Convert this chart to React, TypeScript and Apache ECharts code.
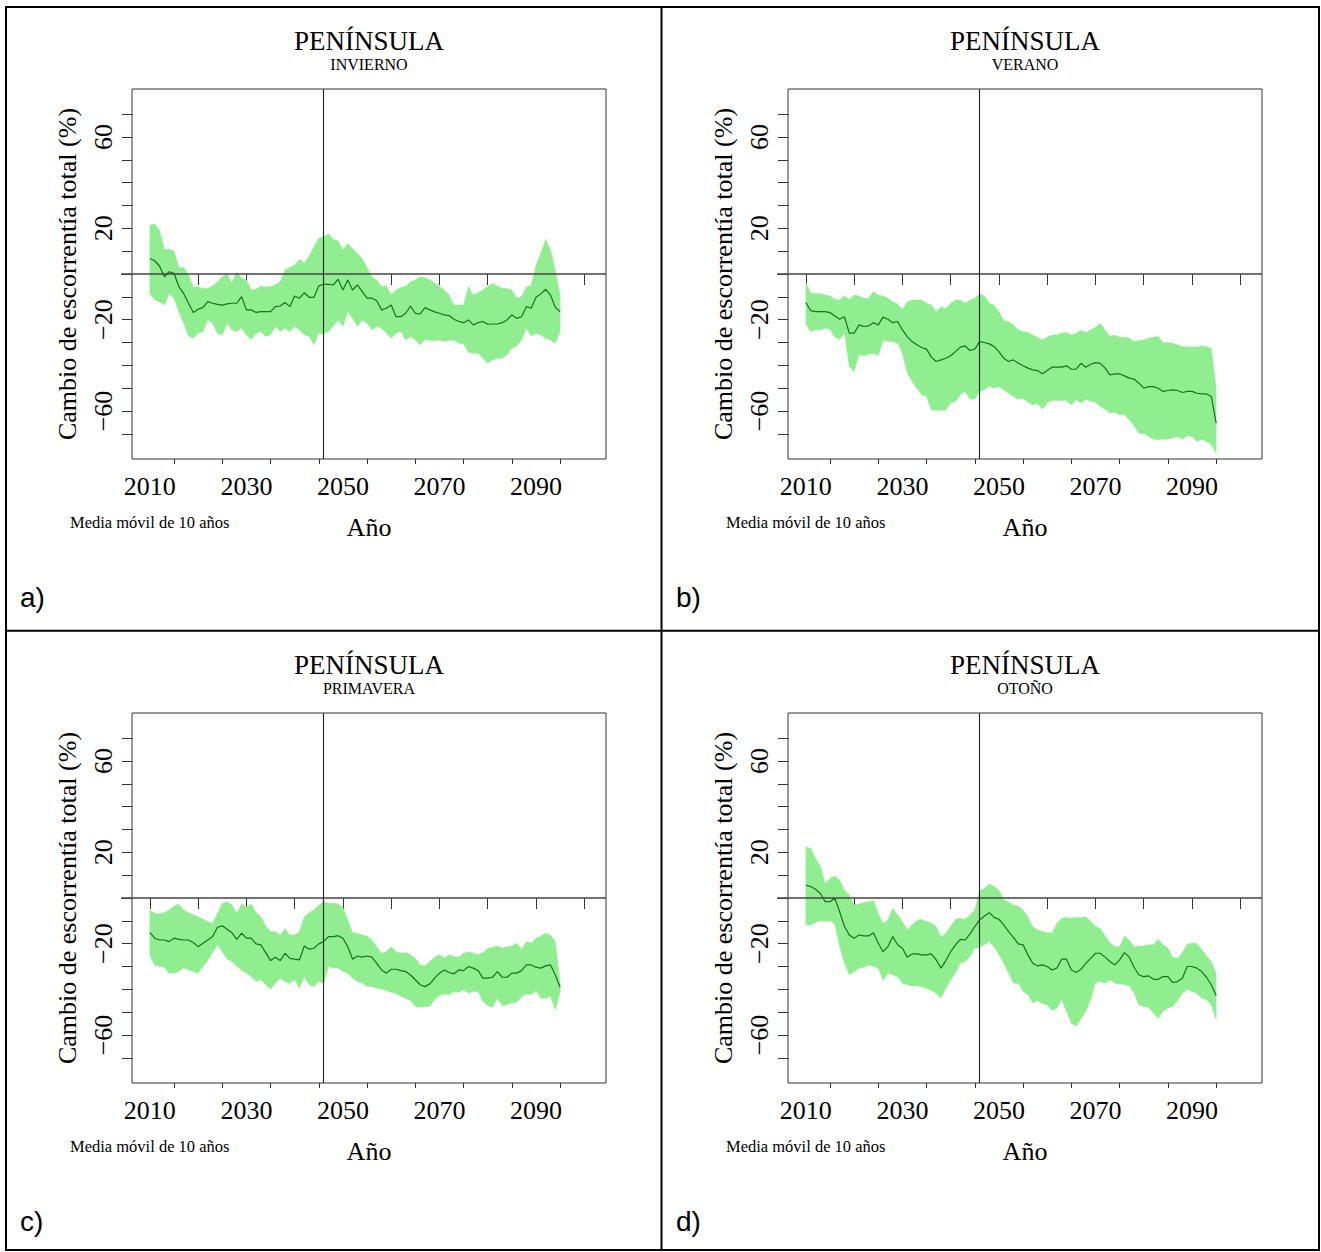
import React, { useEffect, useRef } from "react";
import * as echarts from "echarts";

const years = [
  2010, 2011, 2012, 2013, 2014, 2015, 2016, 2017, 2018, 2019,
  2020, 2021, 2022, 2023, 2024, 2025, 2026, 2027, 2028, 2029,
  2030, 2031, 2032, 2033, 2034, 2035, 2036, 2037, 2038, 2039,
  2040, 2041, 2042, 2043, 2044, 2045, 2046, 2047, 2048, 2049,
  2050, 2051, 2052, 2053, 2054, 2055, 2056, 2057, 2058, 2059,
  2060, 2061, 2062, 2063, 2064, 2065, 2066, 2067, 2068, 2069,
  2070, 2071, 2072, 2073, 2074, 2075, 2076, 2077, 2078, 2079,
  2080, 2081, 2082, 2083, 2084, 2085, 2086, 2087, 2088, 2089,
  2090, 2091, 2092, 2093, 2094, 2095,
];

// a) INVIERNO
const winterMean = [
  6.8, 5.8, 3.5, -1.2, 1.0, 0.3, -5.5, -8.5, -12.8, -16.9,
  -15.4, -14.7, -12.1, -12.8, -13.3, -13.6, -13.1, -12.8, -12.8, -9.9,
  -15.7, -15.7, -16.8, -16.5, -16.5, -16.5, -14.3, -14.0, -12.5, -14.3,
  -9.6, -10.6, -8.2, -10.2, -10.2, -5.2, -4.5, -4.5, -4.8, -2.3,
  -7.0, -2.6, -7.0, -4.8, -7.7, -10.6, -10.6, -11.7, -15.7, -15.0,
  -13.6, -18.7, -18.7, -17.2, -14.0, -17.2, -17.5, -14.7, -15.7, -16.6,
  -17.2, -17.9, -18.2, -19.8, -20.8, -21.3, -20.1, -22.3, -21.3, -20.8,
  -22.0, -21.9, -21.9, -21.3, -20.1, -17.9, -19.4, -18.7, -14.3, -15.0,
  -10.2, -8.7, -6.7, -9.2, -14.6, -16.5,
];
const winterHigh = [
  21.4, 21.9, 19.2, 10.8, 10.8, 10.2, 2.9, 2.9, -0.4, -5.8,
  -5.5, -6.3, -6.3, -5.2, -3.4, -1.2, 0.0, -3.8, 1.0, -1.9,
  -2.6, -7.0, -6.7, -5.2, -5.8, -5.5, -4.8, -3.4, 2.0, 2.9,
  3.9, 6.4, 4.9, 7.9, 11.9, 15.6, 16.3, 17.5, 15.2, 14.6,
  10.5, 13.4, 11.2, 9.0, 6.8, 2.9, -1.2, -2.6, -5.5, -5.2,
  -9.2, -7.0, -5.8, -5.5, -3.4, -2.6, -1.2, -1.6, -2.6, -4.1,
  -5.5, -7.0, -9.2, -13.6, -13.6, -13.6, -5.5, -9.2, -8.2, -7.0,
  -5.5, -4.1, -5.2, -6.3, -6.3, -7.0, -10.6, -9.9, -5.8, -4.8,
  3.9, 9.0, 15.2, 10.5, 1.7, -9.2,
];
const winterLow = [
  -8.5, -11.4, -12.1, -13.6, -8.5, -10.6, -16.5, -21.6, -27.1, -28.1,
  -25.9, -25.2, -20.1, -21.6, -25.9, -26.7, -21.6, -24.5, -25.2, -23.8,
  -26.7, -28.6, -25.9, -25.2, -27.4, -26.7, -23.0, -25.2, -23.8, -25.2,
  -23.0, -24.5, -26.7, -27.4, -31.0, -25.9, -26.2, -25.2, -22.7, -20.1,
  -23.0, -16.5, -19.4, -23.0, -20.1, -21.6, -24.5, -23.0, -23.8, -25.9,
  -28.1, -25.9, -25.2, -28.9, -27.4, -28.9, -31.0, -28.6, -29.1, -29.1,
  -28.9, -29.6, -29.1, -28.9, -30.3, -30.6, -34.4, -34.7, -34.7, -36.9,
  -39.1, -37.6, -36.9, -36.9, -35.4, -32.5, -31.5, -28.9, -23.8, -27.1,
  -25.9, -26.7, -28.1, -28.9, -30.3, -25.2,
];

// b) VERANO
const summerMean = [
  -12.5, -16.0, -16.5, -16.5, -16.5, -16.9, -18.4, -19.8, -18.7, -25.9,
  -25.9, -22.3, -23.0, -22.7, -21.3, -22.3, -18.9, -19.8, -21.3, -20.8,
  -24.5, -27.4, -29.6, -31.0, -32.2, -32.9, -36.4, -38.3, -37.6, -36.9,
  -35.8, -34.0, -32.0, -31.5, -33.5, -32.9, -29.6, -30.0, -30.6, -31.8,
  -34.0, -36.9, -38.3, -37.6, -39.1, -40.2, -41.2, -42.0, -42.3, -43.7,
  -42.3, -40.8, -40.8, -40.8, -40.2, -41.7, -41.7, -39.1, -40.8, -39.5,
  -38.8, -39.1, -41.2, -44.2, -43.7, -43.7, -44.6, -45.6, -46.0, -47.8,
  -50.0, -49.3, -49.3, -50.0, -51.4, -51.0, -50.7, -51.0, -51.9, -51.4,
  -51.4, -52.2, -52.5, -52.5, -53.6, -65.3,
];
const summerHigh = [
  -3.8, -8.2, -8.5, -8.5, -9.2, -9.6, -11.1, -11.4, -9.6, -11.1,
  -9.2, -9.6, -10.6, -10.6, -7.7, -9.2, -9.6, -10.6, -12.1, -13.1,
  -15.4, -12.1, -11.4, -11.4, -11.4, -12.8, -13.6, -16.5, -14.3, -15.0,
  -12.8, -11.4, -11.4, -12.8, -11.4, -10.6, -8.7, -9.6, -12.8, -13.6,
  -16.5, -20.4, -20.8, -22.3, -24.5, -25.2, -25.6, -26.7, -27.7, -28.9,
  -27.7, -26.7, -26.7, -25.9, -25.6, -26.7, -25.9, -24.5, -25.6, -24.5,
  -23.3, -21.6, -24.5, -27.4, -26.7, -27.7, -27.7, -28.1, -29.6, -29.1,
  -28.9, -28.1, -27.7, -27.4, -30.0, -30.0, -30.3, -31.0, -31.8, -31.8,
  -32.0, -31.8, -31.5, -31.8, -32.5, -50.0,
];
const summerLow = [
  -21.9, -25.2, -24.5, -24.5, -23.8, -24.2, -27.7, -28.6, -25.9, -40.5,
  -42.7, -35.4, -35.8, -35.0, -34.7, -35.8, -29.1, -29.6, -29.6, -30.3,
  -34.7, -43.4, -47.1, -50.0, -52.9, -53.6, -59.5, -59.7, -59.7, -59.7,
  -56.5, -55.8, -52.9, -51.4, -54.8, -54.8, -51.4, -50.7, -49.0, -50.0,
  -49.3, -50.7, -52.2, -53.6, -54.8, -54.4, -56.2, -57.3, -56.8, -59.2,
  -56.5, -55.4, -55.4, -55.4, -55.4, -57.3, -55.1, -56.5, -54.8, -55.8,
  -56.2, -58.0, -59.2, -60.9, -60.6, -61.6, -61.6, -63.8, -66.4, -69.7,
  -69.9, -71.1, -72.3, -72.6, -72.3, -72.3, -71.8, -71.1, -72.3, -70.8,
  -71.1, -73.3, -72.3, -73.3, -74.8, -78.4,
];

// c) PRIMAVERA
const springMean = [
  -15.2, -17.6, -18.4, -18.4, -19.1, -17.6, -18.1, -18.4, -18.4, -19.5,
  -21.3, -19.8, -18.4, -16.9, -12.8, -12.2, -13.7, -15.2, -18.1, -15.4,
  -17.6, -17.6, -20.1, -20.5, -23.9, -27.4, -25.9, -27.4, -24.2, -26.4,
  -26.8, -27.1, -21.0, -22.4, -22.0, -20.1, -19.1, -16.9, -16.9, -16.5,
  -17.6, -21.3, -26.8, -25.4, -25.9, -25.4, -25.9, -28.6, -31.5, -32.9,
  -31.2, -31.2, -31.8, -32.2, -33.7, -35.8, -38.0, -38.8, -37.6, -35.1,
  -32.9, -31.5, -32.6, -33.2, -31.5, -31.8, -30.0, -30.7, -31.8, -35.1,
  -35.1, -34.7, -32.2, -34.7, -34.7, -32.9, -32.9, -31.8, -29.3, -29.3,
  -30.3, -30.7, -29.7, -29.3, -33.7, -39.1,
];
const springHigh = [
  -5.2, -6.7, -7.0, -6.4, -5.2, -3.5, -2.6, -5.2, -6.4, -7.4,
  -8.2, -9.3, -10.3, -11.1, -6.7, -2.3, -1.6, -3.1, -6.7, -2.6,
  -3.8, -2.6, -6.4, -8.2, -12.2, -14.7, -14.7, -16.2, -13.3, -16.2,
  -16.2, -14.7, -8.2, -6.4, -5.2, -3.1, -1.6, -2.3, -2.3, -2.6,
  -4.1, -9.6, -15.2, -15.4, -16.2, -16.6, -18.4, -21.3, -24.2, -23.5,
  -21.3, -23.5, -24.2, -23.9, -24.9, -26.4, -29.3, -29.7, -27.8, -25.9,
  -24.9, -26.4, -24.9, -25.6, -25.9, -24.2, -23.5, -24.2, -24.9, -23.9,
  -22.0, -21.6, -21.0, -22.0, -21.3, -21.0, -19.8, -22.4, -19.1, -19.8,
  -17.6, -16.6, -15.4, -16.2, -19.1, -37.3,
];
const springLow = [
  -25.4, -29.3, -30.0, -30.3, -32.9, -32.9, -32.2, -30.7, -31.5, -32.2,
  -32.9, -30.0, -27.4, -23.9, -20.5, -23.5, -26.8, -27.8, -30.0, -31.5,
  -32.9, -34.4, -36.6, -35.8, -38.0, -39.9, -37.3, -35.1, -36.6, -37.3,
  -35.8, -39.5, -34.4, -38.0, -38.8, -36.6, -37.3, -30.0, -30.7, -30.7,
  -32.2, -32.9, -35.1, -36.6, -37.3, -38.8, -38.8, -39.5, -39.9, -40.5,
  -41.4, -41.7, -43.1, -43.9, -44.9, -47.5, -47.8, -47.5, -47.5, -44.3,
  -42.8, -42.0, -42.4, -40.9, -41.4, -40.2, -41.7, -40.9, -40.9, -45.3,
  -47.2, -47.8, -43.9, -47.2, -46.8, -45.8, -45.8, -43.1, -42.0, -42.4,
  -40.5, -43.9, -43.9, -43.1, -49.0, -41.0,
];

// d) OTOÑO
const autumnMean = [
  5.7, 5.0, 3.8, 2.0, -1.6, -1.6, -0.1, -6.0, -12.5, -16.2,
  -17.6, -16.2, -16.6, -16.6, -15.2, -19.8, -23.5, -21.3, -16.9, -20.5,
  -22.0, -25.9, -24.5, -24.5, -24.9, -24.9, -24.5, -27.1, -30.7, -27.4,
  -23.5, -20.5, -18.1, -18.4, -15.7, -12.5, -9.6, -7.9, -6.4, -8.5,
  -9.3, -11.8, -14.7, -17.2, -20.1, -20.5, -24.9, -28.6, -29.7, -29.3,
  -30.0, -31.5, -30.7, -26.8, -26.8, -31.5, -32.6, -31.2, -28.6, -26.4,
  -24.2, -24.2, -25.9, -27.8, -29.3, -27.1, -23.9, -25.9, -30.3, -33.7,
  -34.4, -34.1, -35.6, -35.6, -34.4, -34.4, -37.0, -36.6, -35.1, -30.0,
  -30.0, -30.7, -32.2, -34.7, -38.0, -42.8,
];
const autumnHigh = [
  22.4, 21.7, 17.3, 14.0, 6.4, 8.6, 9.6, 7.9, 3.5, 1.3,
  -3.1, -2.6, -2.0, -1.6, -1.2, -6.7, -11.1, -9.6, -4.5, -7.4,
  -10.3, -14.0, -11.8, -9.9, -9.3, -10.3, -10.8, -12.5, -17.2, -15.4,
  -12.5, -9.3, -8.9, -9.3, -7.4, -5.2, 3.2, 4.2, 6.1, 5.0,
  3.5, -0.9, -1.6, -3.1, -3.5, -5.2, -8.2, -12.5, -14.0, -14.7,
  -15.2, -15.2, -11.1, -8.9, -8.5, -8.9, -8.5, -8.5, -8.2, -10.3,
  -12.5, -13.3, -16.6, -19.5, -21.3, -21.3, -16.6, -18.4, -21.3, -21.0,
  -21.0, -20.5, -20.5, -18.1, -20.5, -22.0, -25.9, -26.4, -23.9, -20.1,
  -19.8, -19.8, -22.4, -25.4, -27.8, -32.9,
];
const autumnLow = [
  -11.8, -11.8, -10.8, -9.9, -10.3, -9.9, -11.4, -21.3, -28.6, -33.7,
  -32.2, -30.7, -30.3, -29.3, -30.0, -30.7, -36.1, -32.9, -33.7, -34.4,
  -37.3, -38.0, -38.5, -38.5, -38.8, -39.5, -40.5, -41.7, -43.9, -39.5,
  -35.8, -32.9, -28.6, -27.8, -25.6, -22.0, -21.6, -20.5, -19.1, -21.3,
  -24.9, -28.6, -32.9, -37.3, -37.3, -40.9, -42.4, -46.0, -44.9, -46.3,
  -46.8, -49.3, -48.2, -44.6, -49.7, -54.8, -56.2, -53.0, -49.7, -44.6,
  -37.0, -36.6, -37.3, -35.8, -37.3, -37.6, -38.0, -38.5, -41.7, -46.8,
  -47.5, -47.8, -50.4, -52.6, -49.7, -48.2, -47.5, -44.9, -41.7, -39.9,
  -40.9, -41.7, -43.9, -44.6, -46.8, -53.3,
];

const majorXTicks = [2010, 2020, 2030, 2040, 2050, 2060, 2070, 2080, 2090, 2100];
const minorXTicks = [2015, 2025, 2035, 2045, 2055, 2065, 2075, 2085, 2095];
const xTickLabels = [2010, 2030, 2050, 2070, 2090];
const yTicks = [-70, -60, -50, -40, -30, -20, -10, 0, 10, 20, 30, 40, 50, 60, 70];
const yTickLabels = [-60, -20, 20, 60];
const referenceYear = 2046;
const referenceValue = 0;

const mainTitle = "PENÍNSULA";
const yTitle = "Cambio de escorrentía total (%)";
const xTitle = "Año";
const note = "Media móvil de 10 años";

const panels = [
  { season: "INVIERNO", letter: "a)", mean: winterMean, low: winterLow, high: winterHigh, dx: 0, dy: 0 },
  { season: "VERANO", letter: "b)", mean: summerMean, low: summerLow, high: summerHigh, dx: 656, dy: 0 },
  { season: "PRIMAVERA", letter: "c)", mean: springMean, low: springLow, high: springHigh, dx: 0, dy: 624 },
  { season: "OTOÑO", letter: "d)", mean: autumnMean, low: autumnLow, high: autumnHigh, dx: 656, dy: 624 },
];

const X_MIN = 2006.3;
const X_MAX = 2104.5;
const Y_MIN = -81;
const Y_MAX = 81;

const SERIF = "'Liberation Serif', 'Times New Roman', serif";
const SANS = "'Liberation Sans', Arial, sans-serif";
const AX = "#333";

function txt(text: string, x: number, y: number, size: number, align: string, valign: string, extra: any = {}) {
  return {
    type: "text",
    x,
    y,
    rotation: extra.rotation || 0,
    silent: true,
    style: {
      text,
      fontSize: size,
      fontFamily: extra.family || SERIF,
      fontWeight: extra.weight || "normal",
      fill: "#000",
      align,
      verticalAlign: valign,
      textAlign: align,
      textVerticalAlign: valign,
    },
  };
}

function buildOption() {
  const grid: any[] = [];
  const xAxis: any[] = [];
  const yAxis: any[] = [];
  const series: any[] = [];
  const graphic: any[] = [];

  graphic.push({
    type: "rect",
    silent: true,
    shape: { x: 6, y: 7, width: 1313, height: 1243 },
    style: { fill: "none", stroke: "#000", lineWidth: 2 },
  });
  graphic.push({
    type: "line",
    silent: true,
    shape: { x1: 661.5, y1: 7, x2: 661.5, y2: 1250 },
    style: { stroke: "#000", lineWidth: 2 },
  });
  graphic.push({
    type: "line",
    silent: true,
    shape: { x1: 6, y1: 630.7, x2: 1319, y2: 630.7 },
    style: { stroke: "#000", lineWidth: 2 },
  });

  panels.forEach((p, i) => {
    const left = 132 + p.dx;
    const top = 89 + p.dy;
    grid.push({
      left,
      top,
      width: 474,
      height: 370,
      show: true,
      borderColor: AX,
      borderWidth: 1,
      backgroundColor: "transparent",
      containLabel: false,
    });
    xAxis.push({
      type: "value",
      gridIndex: i,
      min: X_MIN,
      max: X_MAX,
      position: "bottom",
      axisLine: { show: false },
      splitLine: { show: false },
      axisTick: { show: true, length: 11, customValues: majorXTicks, lineStyle: { color: AX, width: 1 } },
      axisLabel: {
        show: true,
        customValues: xTickLabels,
        fontFamily: SERIF,
        fontSize: 26,
        color: "#000",
        margin: 14,
        formatter: (v: number) => String(v),
      },
    });
    xAxis.push({
      type: "value",
      gridIndex: i,
      min: X_MIN,
      max: X_MAX,
      position: "bottom",
      offset: 0,
      axisLine: { show: false },
      splitLine: { show: false },
      axisTick: { show: true, length: 5, customValues: minorXTicks, lineStyle: { color: AX, width: 1 } },
      axisLabel: { show: false },
    });
    yAxis.push({
      type: "value",
      gridIndex: i,
      min: Y_MIN,
      max: Y_MAX,
      axisLine: { show: false },
      splitLine: { show: false },
      axisTick: { show: true, length: 10, customValues: yTicks, lineStyle: { color: AX, width: 1 } },
      axisLabel: {
        show: true,
        customValues: yTickLabels,
        rotate: 90,
        fontFamily: SERIF,
        fontSize: 26,
        color: "#000",
        margin: 16,
        formatter: (v: number) => (v < 0 ? "\u2212" + Math.abs(v) : String(v)),
      },
    });

    // envelope band (min-max) as one polygon through the axes' scales
    series.push({
      type: "custom",
      xAxisIndex: 2 * i,
      yAxisIndex: i,
      silent: true,
      z: 1,
      encode: { x: 0, y: [1, 2] },
      data: years.map((y, k) => [y, p.low[k], p.high[k]]),
      renderItem: (params: any, api: any) => {
        if (params.dataIndex !== 0) return null;
        const upper = years.map((y, k) => api.coord([y, p.high[k]]));
        const lower = years.map((y, k) => api.coord([y, p.low[k]])).reverse();
        return {
          type: "polygon",
          shape: { points: upper.concat(lower) },
          style: { fill: "#90EE90", stroke: "#90EE90", lineWidth: 0.5 },
        };
      },
    });
    // horizontal zero reference line (extends into the tick zone like the original)
    series.push({
      type: "custom",
      xAxisIndex: 2 * i,
      yAxisIndex: i,
      silent: true,
      z: 3,
      clip: false,
      data: [[X_MIN, referenceValue]],
      renderItem: (params: any, api: any) => {
        const a = api.coord([X_MIN, referenceValue]);
        const b = api.coord([X_MAX, referenceValue]);
        return {
          type: "line",
          shape: { x1: a[0] - 11, y1: a[1], x2: b[0], y2: b[1] },
          style: { stroke: "#444", lineWidth: 1.3 },
        };
      },
    });
    series.push({
      type: "line",
      xAxisIndex: 2 * i,
      yAxisIndex: i,
      symbol: "none",
      silent: true,
      z: 2,
      lineStyle: { width: 1.2, color: "#137513" },
      data: years.map((y, k) => [y, p.mean[k]]),
      markLine: {
        silent: true,
        symbol: ["none", "none"],
        label: { show: false },
        lineStyle: { type: "solid", color: "#222", width: 1.1 },
        data: [{ xAxis: referenceYear }],
      },
    });

    const cx = left + 237;
    graphic.push(txt(mainTitle, cx, 41 + p.dy, 27, "center", "middle"));
    graphic.push(txt(p.season, cx, 64 + p.dy, 16, "center", "middle"));
    graphic.push(txt(yTitle, 67 + p.dx, 274 + p.dy, 26, "center", "middle", { rotation: Math.PI / 2 }));
    graphic.push(txt(xTitle, cx, 527 + p.dy, 26, "center", "middle"));
    graphic.push(txt(note, 70 + p.dx, 522 + p.dy, 16.5, "left", "middle"));
    graphic.push(txt(p.letter, 20 + p.dx, 597 + p.dy, 28, "left", "middle", { family: SANS }));
  });

  return {
    animation: false,
    backgroundColor: "#fff",
    grid,
    xAxis,
    yAxis,
    series,
    graphic: { elements: graphic },
  };
}

export default function App() {
  const ref = useRef<HTMLDivElement>(null);
  useEffect(() => {
    if (!ref.current) return;
    const chart = echarts.init(ref.current, null, { renderer: "svg" });
    chart.setOption(buildOption() as any);
    return () => chart.dispose();
  }, []);
  return (
    <div
      ref={ref}
      style={{ position: "absolute", left: 0, top: 0, width: 1321, height: 1252 }}
    />
  );
}
